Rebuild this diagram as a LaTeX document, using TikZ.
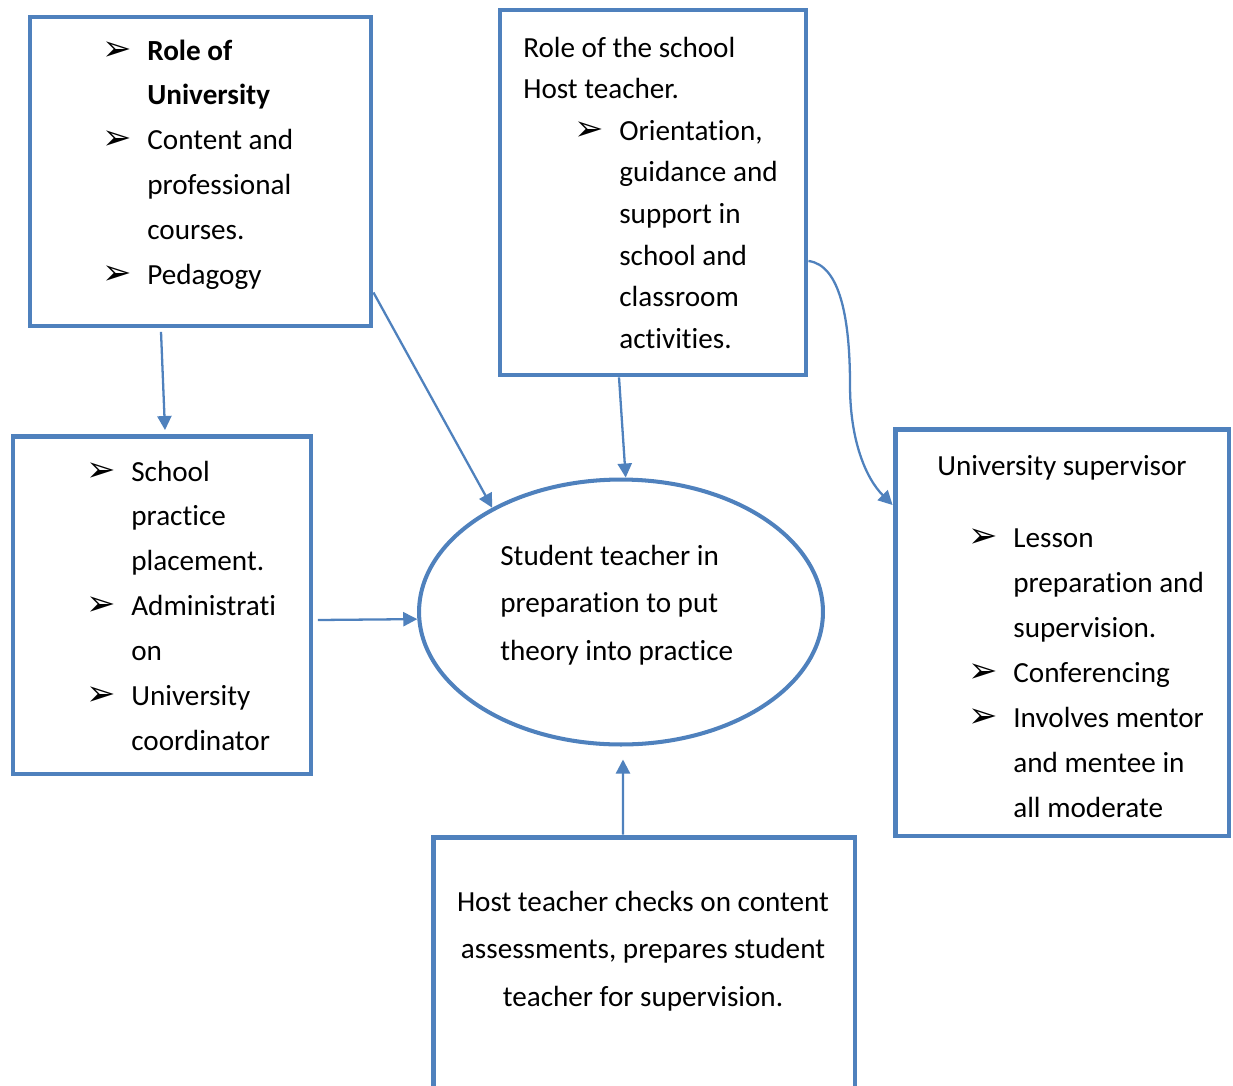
\documentclass[tikz,border=0pt]{standalone}
\usepackage{fontspec}
\setmainfont{Carlito}[Ligatures=NoCommon]
\newfontfamily\symfont{DejaVu Sans}
\usetikzlibrary{shapes.geometric, arrows.meta}

\definecolor{boxblue}{HTML}{4F81BD}
\newcommand{\bul}{\makebox[0.9cm][l]{\symfont\fontsize{20pt}{20pt}\selectfont ➢}}
\newcommand{\ind}{\hspace*{0.9cm}}

\begin{document}
\begin{tikzpicture}[x=0.02cm, y=-0.02cm]

\tikzset{box/.style = {draw=boxblue, line width=2.8pt, inner sep=0pt}}
\tikzset{txt/.style = {anchor=base west, inner sep=0pt, font=\fontsize{16.6pt}{25.6pt}\selectfont}}
\tikzset{arr/.style = {-{Triangle[length=8pt,width=8pt]}, draw=boxblue, line width=1.3pt}}

\useasboundingbox (0,0) rectangle (1233,1085);
\clip (0,0) rectangle (1233,1085);

%boxes
\node[box, minimum width=6.82cm, minimum height=6.18cm] (univ) at (200.5,171.5) {};
\node[box, minimum width=6.12cm, minimum height=7.3cm] (host) at (653,192.5) {};
\node[box, minimum width=5.96cm, minimum height=6.76cm] (pract) at (162,605) {};
\node[box, minimum width=6.68cm, minimum height=8.14cm] (sup) at (1062,632.5) {};
\node[box, minimum width=8.44cm, minimum height=5.92cm] (checks) at (644,985) {};
\node[box, ellipse, line width=2.3pt, minimum width=8.08cm, minimum height=5.3cm] (stud) at (621,612) {};

%texts
\node[txt] (univtext) at (102,60) {\parbox[t]{7cm}{\bul\textbf{Role of}\\
  \ind\textbf{University}\\
  \bul Content and\\
  \ind professional\\
  \ind courses.\\
  \bul Pedagogy}};
\node[txt, font=\fontsize{16.6pt}{23.7pt}\selectfont] (hosttext) at (523,57) {\parbox[t]{7cm}{Role of the school\\
  Host teacher.\\
  \hspace*{1.02cm}\bul Orientation,\\
  \hspace*{1.02cm}\ind guidance and\\
  \hspace*{1.02cm}\ind support in\\
  \hspace*{1.02cm}\ind school and\\
  \hspace*{1.02cm}\ind classroom\\
  \hspace*{1.02cm}\ind activities.}};
\node[txt] (practtext) at (86,481) {\parbox[t]{7cm}{\bul School\\
  \ind practice\\
  \ind placement.\\
  \bul Administrati\\
  \ind on\\
  \bul University\\
  \ind coordinator}};
\node[txt] (suptext) at (937,475) {\parbox[t]{7cm}{University supervisor\\[0.56cm]
  \hspace*{0.62cm}\bul Lesson\\
  \hspace*{0.62cm}\ind preparation and\\
  \hspace*{0.62cm}\ind supervision.\\
  \hspace*{0.62cm}\bul Conferencing\\
  \hspace*{0.62cm}\bul Involves mentor\\
  \hspace*{0.62cm}\ind and mentee in\\
  \hspace*{0.62cm}\ind all moderate}};
\node[txt, font=\fontsize{16.6pt}{27.3pt}\selectfont] (studtext) at (500,565) {\parbox[t]{7cm}{Student teacher in\\
  preparation to put\\
  theory into practice}};
\node[txt, anchor=base, font=\fontsize{16.6pt}{27.3pt}\selectfont] (checkstext) at (643,911) {\parbox[t]{8.2cm}{\centering Host teacher checks on content\\
  assessments, prepares student\\
  teacher for supervision.}};

%connectors
\coordinate (bendpt) at (850,385);
\draw[arr] ([xshift=-0.79cm, yshift=-0.07cm]univ.south) -- ([xshift=0.06cm, yshift=0.07cm]pract.north);
\draw[arr] ([yshift=0.72cm]univ.south east) -- (stud.141);
\draw[arr] ([xshift=-0.68cm]host.south) -- (stud.88);
\draw[arr] ([yshift=-1.37cm]host.east) .. controls +(32,4) and +(0,-65) .. (bendpt)
  .. controls +(0,55) and +(-27,-27) .. ([yshift=2.55cm]sup.west);
\draw[arr] ([xshift=0.09cm, yshift=-0.3cm]pract.east) -- (stud.182);
\draw[arr] ([xshift=-0.42cm]checks.north) -- ([xshift=0.04cm, yshift=-0.26cm]stud.south);

\end{tikzpicture}
\end{document}
